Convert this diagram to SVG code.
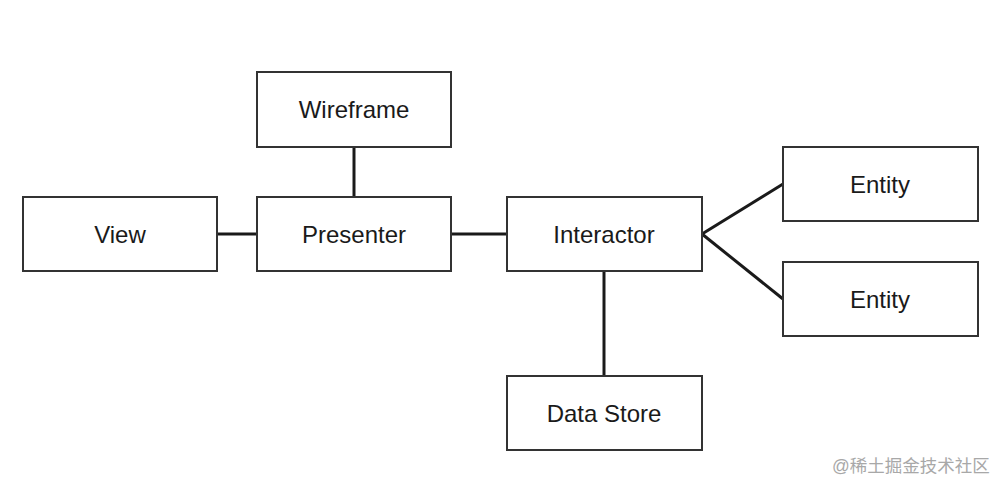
<svg xmlns="http://www.w3.org/2000/svg" width="1008" height="492" viewBox="0 0 1008 492">
<style>
.box{fill:#fff;stroke:#333;stroke-width:2}
.lbl{font-family:"Liberation Sans",Arial,sans-serif;font-size:24px;fill:#1a1a1a;text-anchor:middle;dominant-baseline:central}
.conn{stroke:#1a1a1a;stroke-width:3;fill:none}
.wm{font-family:"Liberation Sans","Noto Sans CJK SC",sans-serif;font-size:17.5px;fill:#a8a8a8}
</style>
<rect width="1008" height="492" fill="#fff"/>
<g id="connectors">
<line class="conn" x1="354" y1="147" x2="354" y2="197"/>
<line class="conn" x1="217" y1="234" x2="257" y2="234"/>
<line class="conn" x1="451" y1="234" x2="507" y2="234"/>
<line class="conn" x1="702" y1="234" x2="783" y2="184"/>
<line class="conn" x1="702" y1="234" x2="783" y2="299"/>
<line class="conn" x1="604" y1="271" x2="604" y2="376"/>
</g>
<g id="wireframe"><rect class="box" x="257" y="72" width="194" height="75"/><text class="lbl" x="354" y="109">Wireframe</text></g>
<g id="view"><rect class="box" x="23" y="197" width="194" height="74"/><text class="lbl" x="120" y="234">View</text></g>
<g id="presenter"><rect class="box" x="257" y="197" width="194" height="74"/><text class="lbl" x="354" y="234">Presenter</text></g>
<g id="interactor"><rect class="box" x="507" y="197" width="195" height="74"/><text class="lbl" x="604" y="234">Interactor</text></g>
<g id="entity1"><rect class="box" x="783" y="147" width="195" height="74"/><text class="lbl" x="880" y="184">Entity</text></g>
<g id="entity2"><rect class="box" x="783" y="262" width="195" height="74"/><text class="lbl" x="880" y="299">Entity</text></g>
<g id="datastore"><rect class="box" x="507" y="376" width="195" height="74"/><text class="lbl" x="604" y="413">Data Store</text></g>
<text class="wm" x="832" y="472">@稀土掘金技术社区</text>
</svg>
